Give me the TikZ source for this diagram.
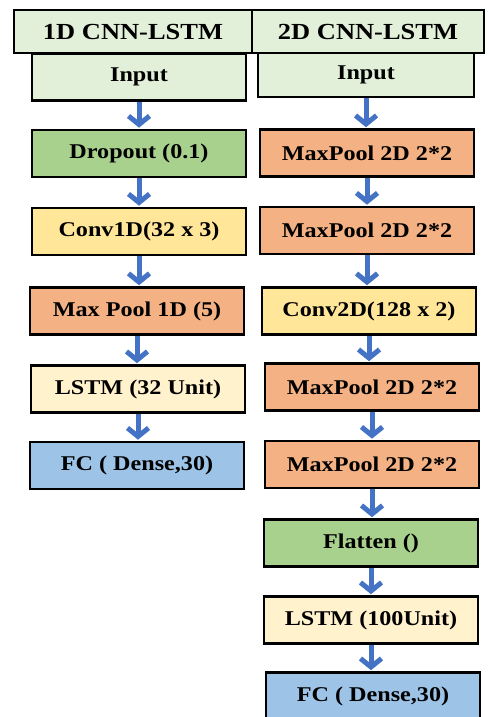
\documentclass[tikz,border=0pt]{standalone}
\usepackage{fontspec}
\setmainfont{Liberation Serif}[FakeStretch=1.15]
\usetikzlibrary{arrows.meta}

\definecolor{headgreen}{HTML}{E2EFD9}
\definecolor{dropgreen}{HTML}{A9D18E}
\definecolor{convyellow}{HTML}{FFE699}
\definecolor{poolorange}{HTML}{F4B183}
\definecolor{lstmcream}{HTML}{FFF2CC}
\definecolor{fcblue}{HTML}{9DC3E6}
\definecolor{arrowblue}{HTML}{4472C4}

\begin{document}
\begin{tikzpicture}[x=1pt,y=-1pt,
    layer/.style={draw=black,line width=2.6pt,minimum width=214pt,minimum height=47pt,
        inner sep=0pt,font=\fontsize{21}{23}\selectfont\bfseries},
    header/.style={layer,fill=headgreen,minimum height=43pt,font=\fontsize{23}{25}\selectfont\bfseries},
    flow/.style={draw=arrowblue,line width=5pt,-{Straight Barb[length=8.5pt,width=21pt]},shorten >=1pt}]
    \useasboundingbox[fill=white] (0,0) rectangle (489,717);

    % 1D CNN-LSTM
    \node[header,minimum width=238pt] (head1) at (133,31.5) {1D CNN-LSTM\hspace{10pt}};
    \node[layer,fill=headgreen] (in1) at (139,77) {Input};
    \node[layer,fill=dropgreen] (drop1) at (139,153.5) {Dropout (0.1)};
    \node[layer,fill=convyellow] (conv1) at (139,231.5) {Conv1D(32 x 3)};
    \node[layer,fill=poolorange] (pool1) at (137,311) {Max Pool 1D (5)};
    \node[layer,fill=lstmcream] (lstm1) at (138,389) {LSTM (32 Unit)};
    \node[layer,fill=fcblue] (fc1) at (137,465.5) {FC ( Dense,30)};

    \draw[flow] (in1.south) -- (in1.south |- drop1.north);
    \draw[flow] (drop1.south) -- (drop1.south |- conv1.north);
    \draw[flow] (conv1.south) -- (conv1.south |- pool1.north);
    \draw[flow] (pool1.south) -- (pool1.south |- lstm1.north);
    \draw[flow] (lstm1.south) -- (lstm1.south |- fc1.north);

    % 2D CNN-LSTM
    \node[header,minimum width=232pt] (head2) at (368,31.5) {2D CNN-LSTM\hspace{10pt}};
    \node[layer,fill=headgreen,minimum width=216pt,minimum height=44pt] (in2) at (366,75) {Input};
    \node[layer,fill=poolorange] (pool2a) at (367,153) {MaxPool 2D 2*2};
    \node[layer,fill=poolorange] (pool2b) at (367,230.5) {MaxPool 2D 2*2};
    \node[layer,fill=convyellow] (conv2) at (369,311) {Conv2D(128 x 2)};
    \node[layer,fill=poolorange] (pool2c) at (372,387) {MaxPool 2D 2*2};
    \node[layer,fill=poolorange] (pool2d) at (372,464.5) {MaxPool 2D 2*2};
    \node[layer,fill=dropgreen] (flat2) at (371,543) {Flatten ()};
    \node[layer,fill=lstmcream] (lstm2) at (371,620) {LSTM (100Unit)};
    \node[layer,fill=fcblue] (fc2) at (373,696) {FC ( Dense,30)};

    \draw[flow] (in2.south) -- (in2.south |- pool2a.north);
    \draw[flow] (pool2a.south) -- (pool2a.south |- pool2b.north);
    \draw[flow] (pool2b.south) -- (pool2b.south |- conv2.north);
    \draw[flow] (conv2.south) -- (conv2.south |- pool2c.north);
    \draw[flow] (pool2c.south) -- (pool2c.south |- pool2d.north);
    \draw[flow] (pool2d.south) -- (pool2d.south |- flat2.north);
    \draw[flow] (flat2.south) -- (flat2.south |- lstm2.north);
    \draw[flow] (lstm2.south) -- (lstm2.south |- fc2.north);
\end{tikzpicture}
\end{document}
